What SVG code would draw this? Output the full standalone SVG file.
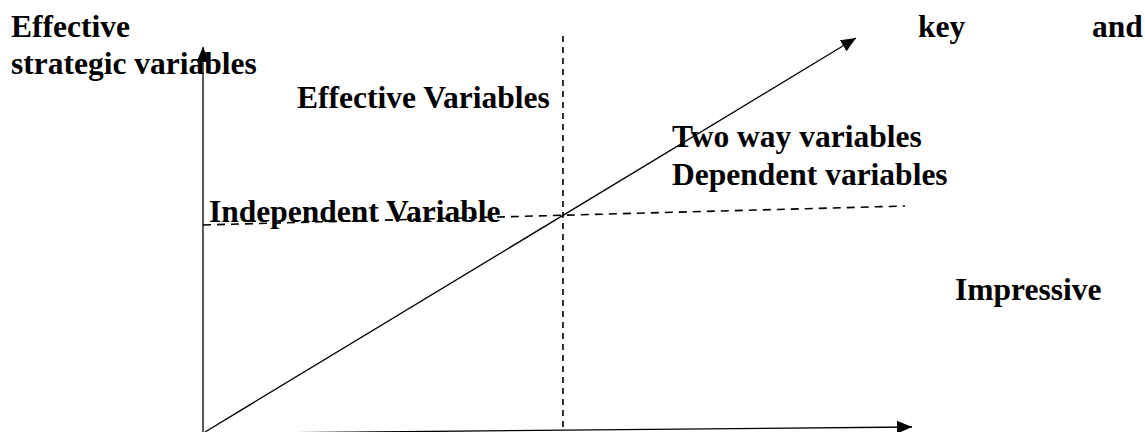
<svg xmlns="http://www.w3.org/2000/svg" width="1145" height="432" viewBox="0 0 1145 432">
<style>
  .t { font-family: "Liberation Serif", "Times New Roman", serif; font-weight: bold; font-size: 31.5px; fill: #000; }
  .ln { stroke: #000; stroke-width: 1.3; fill: none; }
  .dash { stroke: #000; stroke-width: 1.6; fill: none; }
  .dv { stroke-dasharray: 6 5; }
  .dh { stroke-dasharray: 8 6; }
</style>
<defs>
  <marker id="ah" markerUnits="userSpaceOnUse" markerWidth="16" markerHeight="14" refX="15" refY="6.5" orient="auto">
    <path d="M0,0 L15,6.5 L0,13 Z" fill="#000"/>
  </marker>
</defs>
<g id="connectors">
  <line class="ln" x1="203" y1="432" x2="203" y2="47" marker-end="url(#ah)"/>
  <line class="ln" x1="205" y1="432" x2="856" y2="38" marker-end="url(#ah)"/>
  <line class="ln" x1="203" y1="433.5" x2="912" y2="427" marker-end="url(#ah)"/>
  <line class="dash dv" x1="563" y1="36" x2="563" y2="432"/>
  <line class="dash dh" x1="203" y1="225" x2="905" y2="206"/>
</g>
<g id="label-top-left"><text class="t" x="11" y="37">Effective</text><text class="t" x="11" y="74">strategic variables</text></g>
<g id="label-top-right"><text class="t" x="918" y="37">key</text><text class="t" x="1092" y="37">and</text></g>
<g id="label-effective"><text class="t" x="297" y="108">Effective Variables</text></g>
<g id="label-twoway"><text class="t" x="672" y="147">Two way variables</text><text class="t" x="672" y="185">Dependent variables</text></g>
<g id="label-independent"><text class="t" x="209" y="222">Independent Variable</text></g>
<g id="label-impressive"><text class="t" x="955" y="300">Impressive</text></g>
</svg>
